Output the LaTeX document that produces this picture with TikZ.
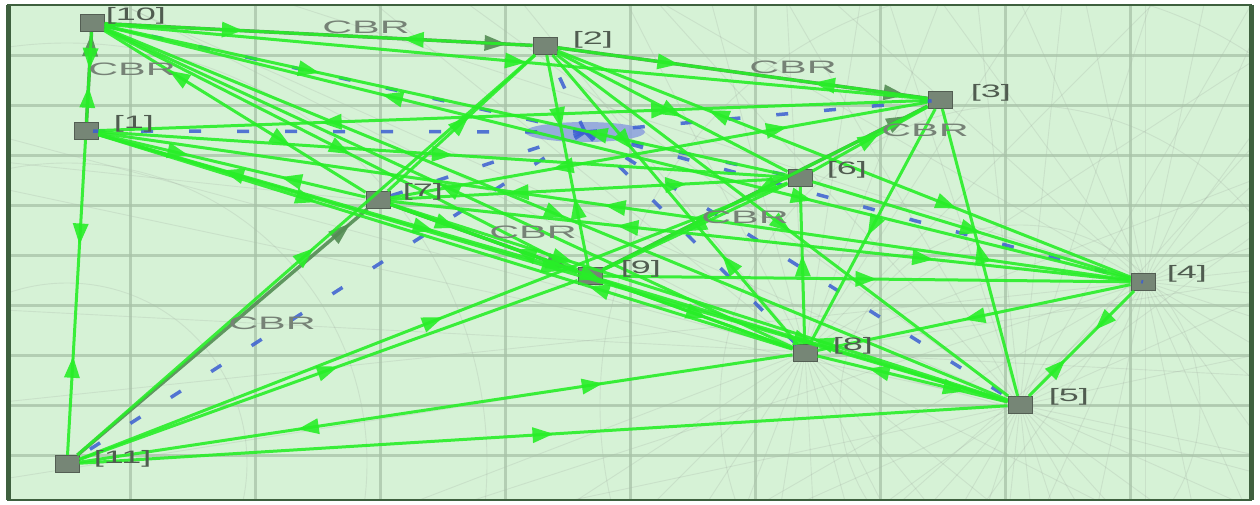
\documentclass[tikz,border=0pt]{standalone}
\usepackage{fontspec}
\setmainfont{Liberation Sans}
\usetikzlibrary{arrows.meta,decorations.markings,shapes.geometric}
\definecolor{bgg}{RGB}{214,242,214}
\definecolor{gridc}{RGB}{168,194,168}
\definecolor{frm}{RGB}{62,96,62}
\definecolor{lg}{RGB}{40,238,40}
\definecolor{dg}{RGB}{84,140,84}
\definecolor{bl}{RGB}{60,95,210}
\definecolor{ngray}{RGB}{118,134,118}
\definecolor{txt}{RGB}{80,92,80}
\definecolor{cbrc}{RGB}{118,130,118}
\definecolor{blobc}{RGB}{140,160,222}
\newcommand\mytipf{\fill[lg] (10pt,0pt) -- (-11pt,-8pt) -- (-11pt,8pt) -- cycle;}
\newcommand\mytipb{\fill[lg] (-10pt,0pt) -- (11pt,-8pt) -- (11pt,8pt) -- cycle;}
\newcommand\mytipd{\fill[dg] (4pt,0pt) -- (-18pt,-8pt) -- (-18pt,8pt) -- cycle;}
\tikzset{
  base/.style={draw=lg, line width=3pt, opacity=0.9},
  lnkF/.style={base, postaction={decorate, decoration={markings,
      mark=at position 0.5 with {\mytipf}}}},
  lnkR/.style={base, postaction={decorate, decoration={markings,
      mark=at position 0.5 with {\mytipb}}}},
  lnkFR/.style={base, postaction={decorate, decoration={markings,
      mark=at position 0.3 with {\mytipf},
      mark=at position 0.72 with {\mytipb}}}},
  lnkRF/.style={base, postaction={decorate, decoration={markings,
      mark=at position 0.28 with {\mytipb},
      mark=at position 0.68 with {\mytipf}}}},
  cbrlink/.style={draw=dg, line width=3.5pt, opacity=0.9, postaction={decorate, decoration={markings,
      mark=at position 0.93 with {\mytipd}}}},
  bdash/.style={draw=bl, line width=3.5pt, dash pattern=on 12pt off 36pt, opacity=0.85},
  nd/.style={rectangle, draw=ngray!70!black, fill=ngray, minimum width=24pt, minimum height=17pt, inner sep=0pt, line width=1pt},
  lbl/.style={font=\fontsize{18}{20}\selectfont, text=txt, inner sep=0pt, anchor=west, xscale=2.0},
  cbr/.style={font=\fontsize{18}{20}\selectfont, text=cbrc, inner sep=0pt, xscale=2.3},
  gridl/.style={draw=gridc, line width=3pt, opacity=0.75},
  faint/.style={draw=gray, line width=0.9pt, opacity=0.15},
}
\begin{document}
\begin{tikzpicture}[x=1pt,y=-1pt]
\useasboundingbox (0,0) rectangle (1260,504);
\fill[white] (0,0) rectangle (1260,504);
% frame and background
\fill[bgg] (8,5) rectangle (1251,500);
% faint pattern
\begin{scope}
\clip (8,5) rectangle (1251,500);
\foreach \a in {0,12,...,348} {
  \draw[faint] (1020,405) -- ++(\a:1500);
  \draw[faint] (1145,282) -- ++(\a+6:1500);
  \draw[faint] (805,352) -- ++(\a+3:1500);
}
\foreach \r in {180,300,420} {
  \draw[faint] (1020,405) circle[radius=\r];
  \draw[faint] (67,463) circle[radius=\r];
}
% grid
\foreach \gx in {130,255,380,505,630,755,880,1005,1130}
  \draw[gridl] (\gx,5) -- (\gx,500);
\foreach \gy in {55,105,155,205,255,305,355,405,455}
  \draw[gridl] (8,\gy) -- (1251,\gy);
\end{scope}
\draw[frm, line width=2.5pt] (8,5) rectangle (1251,500);
\draw[frm, line width=5pt] (8,5) -- (8,500);
\draw[frm, line width=5pt] (1251,5) -- (1251,500);

% blob and nodes
\node[ellipse, fill=blobc, opacity=0.85, minimum width=120pt, minimum height=20pt, inner sep=0pt] (c) at (585,132) {};
\node[nd] (n10) at (92,23) {};
\node[nd] (n2)  at (545,46) {};
\node[nd] (n3)  at (940,100) {};
\node[nd] (n1)  at (86,131) {};
\node[nd] (n6)  at (800,178) {};
\node[nd] (n7)  at (378,200) {};
\node[nd] (n9)  at (590,276) {};
\node[nd] (n4)  at (1143,282) {};
\node[nd] (n8)  at (805,353) {};
\node[nd] (n5)  at (1020,405) {};
\node[nd] (n11) at (67,464) {};

% blue dashed routes
\foreach \t in {n1,n10,n11,n3,n4,n5,n8,n2,n7,n6}
  \draw[bdash] (c.center) -- (\t.center);

% dark CBR links
\draw[cbrlink] (n10) -- (n2);
\draw[cbrlink] (n2) -- (n3);
\draw[cbrlink] (n1) -- (n10);
\draw[cbrlink] (n11) -- (n7);
\draw[cbrlink] (n7) -- (n9);
\draw[cbrlink] (n9) -- (n3);

% green links
\draw[lnkFR] (n10) -- (n2);
\draw[lnkFR] (n10) -- (n1);
\draw[lnkRF] (n10) -- (n7);
\draw[lnkF]  (n10) -- (n9);
\draw[lnkFR] (n10) -- (n6);
\draw[lnkR]  (n10) -- (n8);
\draw[lnkF]  (n10) -- (n5);
\draw[lnkRF] (n10) -- (n4);
\draw[lnkF]  (n10) -- (n3);
\draw[lnkFR] (n1) -- (n11);
\draw[lnkFR] (n1) -- (n7);
\draw[lnkRF] (n1) -- (n9);
\draw[lnkF]  (n1) -- (n6);
\draw[lnkFR] (n1) -- (n8);
\draw[lnkR]  (n1) -- (n4);
\draw[lnkF]  (n1) -- (n5);
\draw[lnkRF] (n1) -- (n3);
\draw[lnkR]  (n2) -- (n7);
\draw[lnkFR] (n2) -- (n9);
\draw[lnkF]  (n2) -- (n6);
\draw[lnkFR] (n2) -- (n8);
\draw[lnkF]  (n2) -- (n5);
\draw[lnkRF] (n2) -- (n4);
\draw[lnkFR] (n2) -- (n3);
\draw[lnkR]  (n2) -- (n11);
\draw[lnkR]  (n3) -- (n6);
\draw[lnkF]  (n3) -- (n9);
\draw[lnkR]  (n3) -- (n5);
\draw[lnkRF] (n3) -- (n7);
\draw[lnkF]  (n3) -- (n8);
\draw[lnkFR] (n4) -- (n5);
\draw[lnkR]  (n4) -- (n9);
\draw[lnkRF] (n4) -- (n7);
\draw[lnkR]  (n4) -- (n6);
\draw[lnkF]  (n4) -- (n8);
\draw[lnkRF] (n5) -- (n8);
\draw[lnkR]  (n5) -- (n9);
\draw[lnkFR] (n5) -- (n7);
\draw[lnkR]  (n5) -- (n11);
\draw[lnkF]  (n6) -- (n9);
\draw[lnkR]  (n6) -- (n8);
\draw[lnkRF] (n6) -- (n7);
\draw[lnkR]  (n6) -- (n11);
\draw[lnkFR] (n7) -- (n9);
\draw[lnkF]  (n7) -- (n8);
\draw[lnkR]  (n8) -- (n9);
\draw[lnkRF] (n8) -- (n11);
\draw[lnkR]  (n9) -- (n11);

% node labels
\node[lbl] (l10) at ([xshift=1pt,yshift=7pt]n10.east) {[10]};
\node[lbl] (l2)  at ([xshift=15pt,yshift=6pt]n2.east) {[2]};
\node[lbl] (l3)  at ([xshift=18pt,yshift=7pt]n3.east) {[3]};
\node[lbl] (l1)  at ([xshift=15pt,yshift=7pt]n1.east) {[1]};
\node[lbl] (l6)  at ([xshift=14pt,yshift=8pt]n6.east) {[6]};
\node[lbl] (l7)  at ([xshift=12pt,yshift=8pt]n7.east) {[7]};
\node[lbl] (l9)  at ([xshift=18pt,yshift=7pt]n9.east) {[9]};
\node[lbl] (l4)  at ([xshift=11pt,yshift=8pt]n4.east) {[4]};
\node[lbl] (l8)  at ([xshift=15pt,yshift=7pt]n8.east) {[8]};
\node[lbl] (l5)  at ([xshift=16pt,yshift=8pt]n5.east) {[5]};
\node[lbl] (l11) at ([xshift=14pt,yshift=5pt]n11.east) {[11]};

% CBR labels
\node[cbr] (c1) at (366,27) {CBR};
\node[cbr] (c2) at (132,69) {CBR};
\node[cbr] (c3) at (793,67) {CBR};
\node[cbr] (c4) at (925,130) {CBR};
\node[cbr] (c5) at (533,232) {CBR};
\node[cbr] (c6) at (745,217) {CBR};
\node[cbr] (c7) at (272,323) {CBR};
\end{tikzpicture}
\end{document}
